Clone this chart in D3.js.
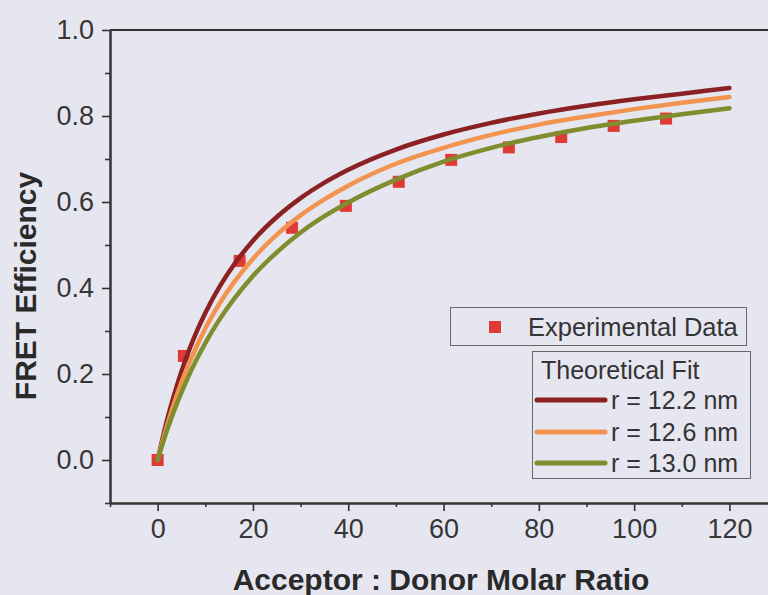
<!DOCTYPE html>
<html>
<head>
<meta charset="utf-8">
<script src="https://cdn.jsdelivr.net/npm/d3@7"></script>
<style>
  html, body { margin: 0; padding: 0; background: #e6e6f0; }
  svg { display: block; }
  text { font-family: "Liberation Sans", Arial, sans-serif; }
</style>
</head>
<body>
<svg id="chart" width="768" height="595"></svg>
<script>
// ---- data ----
const expRatio = [0, 5.5, 17.2, 28.2, 39.5, 50.6, 61.6, 73.7, 84.7, 95.7, 106.7];
const expEff   = [0.0, 0.242, 0.463, 0.540, 0.591, 0.647, 0.698, 0.727, 0.751, 0.777, 0.794];

const fitRatio = [0, 1, 2, 4, 6, 8, 10, 13, 16, 20, 25, 30, 35, 40, 50, 60, 70, 80, 90, 100, 110, 120];
const fit122 = [0, 0.049, 0.094, 0.172, 0.238, 0.294, 0.342, 0.403, 0.454, 0.510, 0.565, 0.609, 0.645, 0.675, 0.722, 0.757, 0.784, 0.806, 0.824, 0.839, 0.852, 0.865];
const fit126 = [0, 0.042, 0.081, 0.150, 0.209, 0.260, 0.306, 0.364, 0.413, 0.468, 0.524, 0.569, 0.606, 0.638, 0.689, 0.726, 0.756, 0.780, 0.799, 0.816, 0.831, 0.844];
const fit130 = [0, 0.036, 0.070, 0.130, 0.183, 0.230, 0.272, 0.327, 0.374, 0.428, 0.483, 0.529, 0.567, 0.599, 0.652, 0.694, 0.726, 0.751, 0.772, 0.789, 0.804, 0.818];

const fitNames  = ["r = 12.2 nm", "r = 12.6 nm", "r = 13.0 nm"];
const fitColors = ["#8c2124", "#f2944f", "#808d2e"];
const xTicks = [0, 20, 40, 60, 80, 100, 120];
const yTicks = [0.0, 0.2, 0.4, 0.6, 0.8, 1.0];
const xTitle = "Acceptor : Donor Molar Ratio";
const yTitle = "FRET Efficiency";
const legendExp = "Experimental Data";
const legendFitTitle = "Theoretical Fit";

// ---- chart ----
const svg = d3.select("#chart");
const x = d3.scaleLinear().domain([-10, 130]).range([110, 777.1]);
const y = d3.scaleLinear().domain([-0.1, 1.0]).range([503, 30]);
const axisColor = "#333";

// minor ticks
const xMinor = d3.range(-10, 131, 10).filter(v => v % 20 !== 0);
const yMinor = [-0.1, 0.1, 0.3, 0.5, 0.7, 0.9];

const gx = svg.append("g").attr("transform", `translate(0,${y(-0.1)})`)
  .call(d3.axisBottom(x).tickValues(xTicks).tickFormat(d3.format("d")).tickSize(8).tickPadding(6).tickSizeOuter(0));
const gxm = svg.append("g").attr("transform", `translate(0,${y(-0.1)})`)
  .call(d3.axisBottom(x).tickValues(xMinor).tickFormat("").tickSize(4).tickSizeOuter(0));
const gy = svg.append("g").attr("transform", `translate(${x(-10)},0)`)
  .call(d3.axisLeft(y).tickValues(yTicks).tickFormat(d3.format(".1f")).tickSize(8).tickPadding(8).tickSizeOuter(0));
const gym = svg.append("g").attr("transform", `translate(${x(-10)},0)`)
  .call(d3.axisLeft(y).tickValues(yMinor).tickFormat("").tickSize(5).tickSizeOuter(0));

[gx, gxm, gy, gym].forEach(g => {
  g.select(".domain").attr("stroke", axisColor).attr("stroke-width", 2);
  g.selectAll(".tick line").attr("stroke", axisColor).attr("stroke-width", 1.6);
  g.selectAll(".tick text").attr("fill", "#363636").style("font-size", "27px")
    .style("font-family", "'Liberation Sans', Arial, sans-serif");
});
gx.selectAll(".tick text").attr("dy", "0.78em");

// top frame line
svg.append("line")
  .attr("x1", x(-10)).attr("x2", x(130))
  .attr("y1", y(1.0)).attr("y2", y(1.0))
  .attr("stroke", axisColor).attr("stroke-width", 2);

// experimental points
const sq = 12;
svg.append("g").selectAll("rect")
  .data(expRatio.map((r, i) => [r, expEff[i]]))
  .join("rect")
  .attr("x", d => x(d[0]) - sq / 2)
  .attr("y", d => y(d[1]) - sq / 2)
  .attr("width", sq).attr("height", sq)
  .attr("fill", "#df3a35");

// fits
const fits = [fit122, fit126, fit130];
const line = d3.line().x(d => x(d[0])).y(d => y(d[1])).curve(d3.curveMonotoneX);
fits.forEach((vals, k) => {
  svg.append("path")
    .datum(fitRatio.map((r, i) => [r, vals[i]]))
    .attr("d", line)
    .attr("fill", "none")
    .attr("stroke", fitColors[k])
    .attr("stroke-width", 4.5)
    .attr("stroke-linecap", "round");
});

// axis titles
svg.append("text")
  .attr("x", 441).attr("y", 590)
  .attr("text-anchor", "middle")
  .attr("fill", "#2a2a2a")
  .style("font-size", "30px").style("font-weight", "bold")
  .text(xTitle);
svg.append("text")
  .attr("transform", "translate(36,286) rotate(-90)")
  .attr("text-anchor", "middle")
  .attr("fill", "#2a2a2a")
  .style("font-size", "30px").style("font-weight", "bold")
  .text(yTitle);

// legend 1
const l1 = svg.append("g");
l1.append("rect").attr("x", 450.5).attr("y", 307.5).attr("width", 296).attr("height", 38)
  .attr("fill", "none").attr("stroke", "#666").attr("stroke-width", 1);
l1.append("rect").attr("x", 489).attr("y", 321).attr("width", sq).attr("height", sq).attr("fill", "#df3a35");
l1.append("text").attr("x", 528).attr("y", 336).attr("fill", "#333")
  .style("font-size", "25.5px").text(legendExp);

// legend 2
const l2 = svg.append("g");
l2.append("rect").attr("x", 532.5).attr("y", 351.5).attr("width", 218).attr("height", 127)
  .attr("fill", "none").attr("stroke", "#666").attr("stroke-width", 1);
l2.append("text").attr("x", 541).attr("y", 379).attr("fill", "#333")
  .style("font-size", "25px").text(legendFitTitle);
const rowY = [400, 432, 463];
fitNames.forEach((nm, k) => {
  l2.append("line").attr("x1", 537).attr("x2", 605).attr("y1", rowY[k]).attr("y2", rowY[k])
    .attr("stroke", fitColors[k]).attr("stroke-width", 5).attr("stroke-linecap", "round");
  l2.append("text").attr("x", 611).attr("y", rowY[k] + 9).attr("fill", "#333")
    .style("font-size", "25px").text(nm);
});
</script>
</body>
</html>
